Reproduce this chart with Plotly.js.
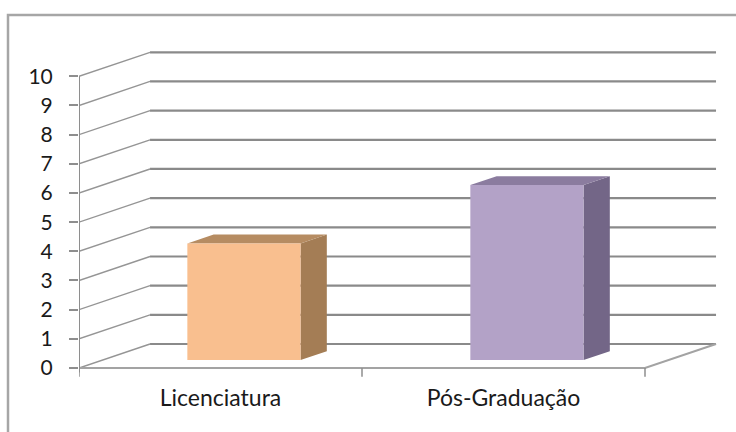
<!DOCTYPE html>
<html>
<head>
<meta charset="utf-8">
<script src="https://cdn.plot.ly/plotly-3.0.1.min.js"></script>
<style>html,body{margin:0;padding:0;background:#fff;}#chart{width:736px;height:432px;}</style>
</head>
<body>
<div id="chart"></div>
<script>
// ---- data ----
const categories = ['Licenciatura', 'Pós-Graduação'];
const values = [4, 6];
const yTicks = [0, 1, 2, 3, 4, 5, 6, 7, 8, 9, 10];

// ---- style / 3D projection (oblique) ----
const frontColors = ['#F9BF8F', '#B3A2C7'];
const sideColors  = ['#A47D55', '#736687'];
const topColors   = ['#B68C62', '#8B7C9F'];
const DX = 0.251;   // depth shift in x (category units) for full depth
const DY = 0.823;   // depth shift in y (value units) for full depth
const F0 = 0.33;    // bar front position in depth fraction
const FD = 0.37;    // bar depth fraction
const BW = 0.40;    // bar width in category units
const xMin = -0.5, xMax = categories.length - 0.5;

const traces = [];
const base = {type: 'scatter', mode: 'lines', hoverinfo: 'skip', showlegend: false};

// back-wall horizontal gridlines
const gx = [], gy = [], dx = [], dy = [];
yTicks.forEach(v => {
  gx.push(xMin + DX, xMax + DX, null); gy.push(v + DY, v + DY, null);
  dx.push(xMin, xMin + DX, null); dy.push(v, v + DY, null);
});
traces.push(Object.assign({}, base, {x: gx, y: gy, line: {color: '#8a8a8a', width: 2.2}}));
traces.push(Object.assign({}, base, {x: dx, y: dy, line: {color: '#959595', width: 1.4}}));
// floor front edge and right edge
traces.push(Object.assign({}, base, {x: [xMin, xMax, xMax + DX], y: [0, 0, DY], line: {color: '#a3a3a3', width: 2}}));
// front vertical axis
traces.push(Object.assign({}, base, {x: [xMin, xMin], y: [-0.15, yTicks[yTicks.length - 1]], line: {color: '#8e8e8e', width: 2}}));
// category boundary ticks
const tx = [], ty = [];
for (let i = 0; i <= categories.length; i++) { tx.push(i - 0.5, i - 0.5, null); ty.push(0, -0.3, null); }
traces.push(Object.assign({}, base, {x: tx, y: ty, line: {color: '#8e8e8e', width: 1.5}}));

// bars
categories.forEach((c, i) => {
  const v = values[i];
  const ox = F0 * DX, oy = F0 * DY;
  const ddx = FD * DX, ddy = FD * DY;
  const x0 = i - BW / 2 + ox, x1 = i + BW / 2 + ox;
  const yb = oy, yt = v + oy;
  const face = (xs, ys, col) => Object.assign({}, base, {x: xs, y: ys, fill: 'toself', fillcolor: col, line: {width: 0, color: col}});
  traces.push(face([x1, x1 + ddx, x1 + ddx, x1, x1], [yb, yb + ddy, yt + ddy, yt, yb], sideColors[i]));
  traces.push(face([x0, x1, x1 + ddx, x0 + ddx, x0], [yt, yt, yt + ddy, yt + ddy, yt], topColors[i]));
  traces.push(face([x0, x1, x1, x0, x0], [yb, yb, yt, yt, yb], frontColors[i]));
});

const layout = {
  width: 736, height: 432,
  margin: {l: 79, r: 17, t: 40, b: 54},
  paper_bgcolor: '#ffffff', plot_bgcolor: '#ffffff',
  showlegend: false,
  font: {family: 'Lato, "Open Sans", sans-serif', color: '#1a1a1a'},
  xaxis: {
    range: [xMin, xMin + 640 / 283], tickvals: categories.map((c, i) => i), ticktext: categories,
    ticks: '', showgrid: false, zeroline: false, showline: false, fixedrange: true,
    tickfont: {size: 23, family: 'Lato, sans-serif', color: '#1a1a1a'}, ticklabelstandoff: 4
  },
  yaxis: {
    range: [-10 / 29.17, 328 / 29.17], tickvals: yTicks, ticks: 'outside', ticklen: 9,
    tickcolor: '#8e8e8e', tickwidth: 2, showgrid: false, zeroline: false, showline: false, fixedrange: true,
    tickfont: {size: 21, family: 'Lato, sans-serif', color: '#1a1a1a'}, ticklabelstandoff: 12
  },
  shapes: [{
    type: 'rect', xref: 'paper', yref: 'paper', layer: 'above',
    x0: -71 / 640, x1: 1 + 40 / 640, y0: -80 / 338, y1: 1 + 25 / 338,
    line: {color: '#a6a6a6', width: 2.5}, fillcolor: 'rgba(0,0,0,0)'
  }]
};

Plotly.newPlot('chart', traces, layout, {staticPlot: true, displayModeBar: false});
</script>
</body>
</html>
